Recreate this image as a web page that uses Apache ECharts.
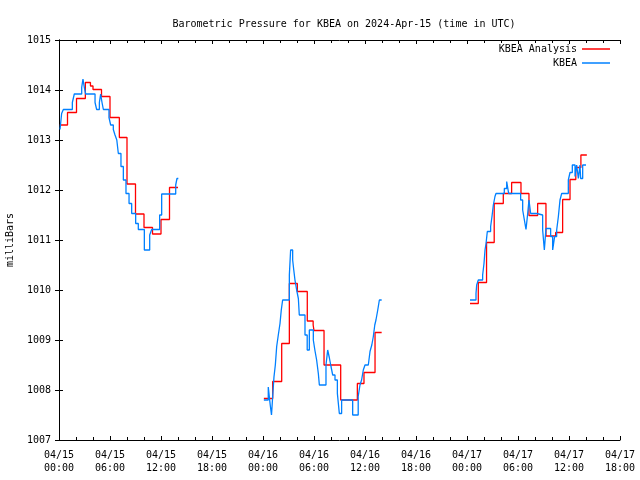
<!DOCTYPE html>
<html><head><meta charset="utf-8">
<script src="https://cdn.jsdelivr.net/npm/echarts@6/dist/echarts.min.js"></script>
<style>html,body{margin:0;padding:0;background:#fff}#c{width:640px;height:480px}</style>
</head><body><div id="c"></div>
<script>
// x = hours since 2024-04-15 00:00 UTC, y = pressure (mb)
const analysisSeg1 = [[0.1,1013.30],[1.0,1013.55],[2.06,1013.83],[3.1,1014.15],[3.7,1014.08],[4.0,1014.01],[5.0,1013.87],[6.0,1013.45],[7.1,1013.05],[8.0,1012.12],[9.0,1011.52],[10.0,1011.25],[11.0,1011.12],[12.0,1011.41],[13.0,1012.05],[14.0,1012.05]];
const analysisSeg2 = [[24.1,1007.83],[25.14,1008.17],[26.2,1008.93],[27.1,1010.13],[28.04,1009.97],[29.21,1009.38],[29.9,1009.3],[30.0,1009.19],[31.18,1008.5],[33.14,1007.8],[35.1,1008.13],[35.88,1008.35],[37.18,1009.15],[37.96,1009.15]];
const analysisSeg3 = [[48.35,1009.73],[49.33,1010.15],[50.3,1010.95],[51.2,1011.73],[52.27,1011.93],[53.25,1012.15],[54.35,1011.93],[55.29,1011.49],[56.31,1011.73],[57.29,1011.08],[58.43,1011.15],[59.25,1011.81],[60.12,1012.21],[60.8,1012.45],[61.4,1012.7],[62.1,1012.7]];

const obsSeg1 = [[0.12,1013.21],[0.31,1013.53],[0.51,1013.61],[1.57,1013.75],[1.8,1013.92],[2.67,1014.05],[2.82,1014.22],[2.98,1014.05],[3.14,1013.92],[4.24,1013.75],[4.43,1013.61],[4.75,1013.75],[4.9,1013.92],[5.06,1013.75],[5.22,1013.61],[5.88,1013.45],[6.08,1013.3],[6.39,1013.21],[6.59,1013.1],[6.8,1013.0],[6.98,1012.73],[7.29,1012.47],[7.57,1012.2],[7.88,1011.93],[8.24,1011.73],[8.55,1011.53],[9.02,1011.33],[9.33,1011.21],[10.04,1010.8],[10.67,1011.1],[10.9,1011.21],[11.84,1011.5],[12.08,1011.92],[13.73,1012.1],[13.88,1012.23],[14.04,1012.23]];
const obsSeg2 = [[24.1,1007.8],[24.62,1008.06],[24.85,1007.7],[25.0,1007.5],[25.15,1007.9],[25.29,1008.26],[25.45,1008.5],[25.61,1008.87],[25.8,1009.1],[26.0,1009.33],[26.15,1009.6],[26.31,1009.8],[27.1,1010.3],[27.25,1010.8],[27.49,1010.6],[27.62,1010.4],[27.76,1010.2],[27.96,1010.0],[28.16,1009.83],[28.27,1009.5],[28.94,1009.1],[29.2,1008.8],[29.45,1009.2],[29.92,1009.0],[30.1,1008.8],[30.31,1008.6],[30.51,1008.33],[30.63,1008.1],[31.41,1008.5],[31.61,1008.8],[31.8,1008.65],[32.0,1008.47],[32.2,1008.3],[32.47,1008.2],[32.75,1007.93],[32.98,1007.53],[33.25,1007.8],[34.55,1007.5],[35.2,1007.87],[35.41,1008.1],[35.6,1008.2],[35.8,1008.4],[36.0,1008.5],[36.39,1008.53],[36.59,1008.77],[36.8,1008.9],[36.98,1009.07],[37.15,1009.3],[37.29,1009.4],[37.5,1009.6],[37.69,1009.8],[37.96,1009.8]];
const obsSeg3 = [[48.35,1009.8],[49.06,1009.93],[49.14,1010.1],[49.33,1010.2],[49.84,1010.3],[50.0,1010.53],[50.12,1010.8],[50.24,1010.93],[50.39,1011.17],[50.78,1011.27],[50.94,1011.47],[51.1,1011.7],[51.29,1011.87],[51.41,1011.93],[52.39,1012.03],[52.67,1012.17],[52.9,1011.93],[54.31,1011.8],[54.55,1011.6],[54.75,1011.4],[54.94,1011.21],[55.14,1011.53],[55.29,1011.8],[55.49,1011.53],[56.2,1011.5],[56.9,1011.2],[57.1,1010.8],[57.29,1011.23],[57.84,1011.07],[58.08,1010.8],[58.31,1011.07],[58.55,1011.2],[58.75,1011.47],[58.94,1011.8],[59.14,1011.93],[59.92,1012.2],[60.12,1012.35],[60.39,1012.5],[60.71,1012.27],[60.9,1012.5],[61.1,1012.23],[61.29,1012.5],[61.37,1012.23],[61.61,1012.5],[62.0,1012.5]];

const titleText = 'Barometric Pressure for KBEA on 2024-Apr-15 (time in UTC)';
const analysisName = 'KBEA Analysis';
const obsName = 'KBEA';
const yTitle = 'milliBars';

const FONT = 'DejaVu Sans Mono';
const RED = '#ff0000', BLUE = '#0080ff';

function xLabel(h) {
  const day = 15 + Math.floor(h / 24);
  const hr = h % 24;
  return '04/' + day + '\n' + String(hr).padStart(2, '0') + ':00';
}

const chart = echarts.init(document.getElementById('c'), null, {renderer: 'canvas'});
const axisCommon = {
  axisLine: {show: true, lineStyle: {color: '#000', width: 1}},
  axisTick: {show: true, inside: true, length: 4, lineStyle: {color: '#000'}},
  splitLine: {show: false}
};
function mkSeries(name, data, color) {
  return {type: 'line', name: name, data: data, step: 'end', symbol: 'none',
    lineStyle: {color: color, width: 1.3}, itemStyle: {color: color},
    xAxisIndex: 0, yAxisIndex: 0, animation: false, silent: true};
}
chart.setOption({
  animation: false,
  backgroundColor: '#fff',
  title: {text: titleText, left: 339, textAlign: 'center', top: 14,
    textStyle: {fontFamily: FONT, fontSize: 10, fontWeight: 'normal', color: '#000'}},
  grid: {left: 59, right: 20, top: 40, bottom: 40, show: false, containLabel: false, outerBoundsMode: 'none'},
  legend: [
    {data: [analysisName], right: 30, top: 44, padding: 0, align: 'right', icon: 'rect',
     itemWidth: 28, itemHeight: 1.5, itemGap: 0,
     textStyle: {fontFamily: FONT, fontSize: 10, color: '#000'}},
    {data: [obsName], right: 30, top: 58, padding: 0, align: 'right', icon: 'rect',
     itemWidth: 28, itemHeight: 1.5, itemGap: 0,
     textStyle: {fontFamily: FONT, fontSize: 10, color: '#000'}}
  ],
  xAxis: [
    Object.assign({type: 'value', min: 0, max: 66, interval: 6, position: 'bottom',
      minorTick: {show: true, splitNumber: 3, length: 3, lineStyle: {color: '#000'}},
      axisLabel: {formatter: xLabel, fontFamily: FONT, fontSize: 10, color: '#000', margin: 9, lineHeight: 13}}, axisCommon),
    Object.assign({type: 'value', min: 0, max: 66, interval: 6, position: 'top',
      minorTick: {show: true, splitNumber: 3, length: 3, lineStyle: {color: '#000'}},
      axisLabel: {show: false}}, axisCommon)
  ],
  yAxis: [
    Object.assign({type: 'value', min: 1007, max: 1015, interval: 1, position: 'left',
      name: yTitle, nameLocation: 'middle', nameGap: 44, nameRotate: 90,
      nameTextStyle: {fontFamily: FONT, fontSize: 10, color: '#000'},
      axisLabel: {fontFamily: FONT, fontSize: 10, color: '#000', margin: 8, formatter: v => String(v)}}, axisCommon),
    Object.assign({type: 'value', min: 1007, max: 1015, interval: 1, position: 'right',
      axisLabel: {show: false}}, axisCommon)
  ],
  series: [
    mkSeries(analysisName, analysisSeg1, RED),
    mkSeries(analysisName, analysisSeg2, RED),
    mkSeries(analysisName, analysisSeg3, RED),
    mkSeries(obsName, obsSeg1, BLUE),
    mkSeries(obsName, obsSeg2, BLUE),
    mkSeries(obsName, obsSeg3, BLUE)
  ]
});
</script></body></html>
